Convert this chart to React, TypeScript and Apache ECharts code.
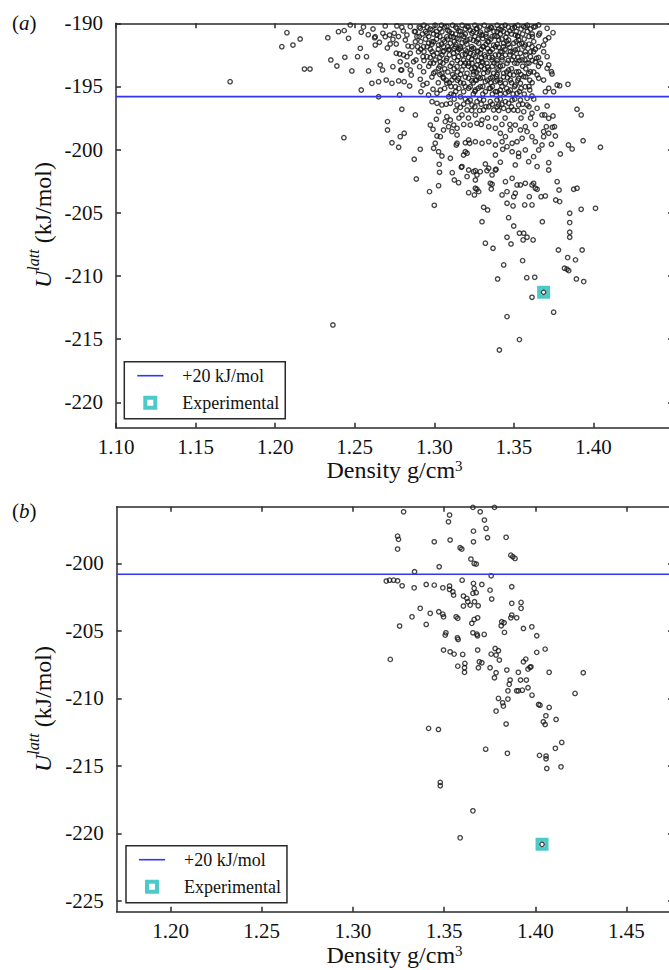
import React, { useEffect, useRef } from "react";
import * as echarts from "echarts";

const FONT = "Liberation Serif, Times New Roman, Times, serif";

// ---- axes ----
const A_X_TICKS = [1.1, 1.15, 1.2, 1.25, 1.3, 1.35, 1.4, 1.45];
const A_Y_TICKS = [-220, -215, -210, -205, -200, -195, -190];
const B_X_TICKS = [1.2, 1.25, 1.3, 1.35, 1.4, 1.45];
const B_Y_TICKS = [-225, -220, -215, -210, -205, -200];
const A_X_RANGE = [1.1, 1.45];
const A_Y_RANGE = [-222, -190];
const B_X_RANGE = [1.1705, 1.4755];
const B_Y_RANGE = [-225.8, -195.8];

// ---- reference lines / experimental structure ----
const A_ENERGY_WINDOW = -195.8;
const B_ENERGY_WINDOW = -200.8;
const A_EXPERIMENTAL: [number, number] = [1.3687, -211.28];
const B_EXPERIMENTAL: [number, number] = [1.4037, -220.81];

// ---- panel (a) structures: [density, U_latt] ----
const A_OUTLIERS: [number, number][] = [
  [1.1717, -194.62], [1.2042, -191.85], [1.2074, -190.74], [1.2112, -191.72], [1.2157, -191.24],
  [1.2184, -193.62], [1.2219, -193.62], [1.2331, -191.14], [1.235, -192.9], [1.2388, -193.38],
  [1.2398, -190.66], [1.2363, -213.87],
];
const A_SPREAD: [number, number][] = [
  [1.2434, -190.58], [1.2461, -191.19], [1.2472, -190.13], [1.2438, -192.69], [1.2482, -193.77],
  [1.2432, -199.05], [1.2541, -195.28], [1.2541, -190.71], [1.2518, -192.64], [1.2535, -191.98],
  [1.2574, -192.64], [1.2587, -193.77], [1.2608, -194.75], [1.2625, -191.14], [1.265, -194.62],
  [1.265, -195.81], [1.2698, -194.49], [1.2734, -194.75], [1.2776, -194.56], [1.2811, -194.62],
  [1.2845, -194.96], [1.2782, -195.67], [1.266, -193.3], [1.2675, -193.69], [1.274, -193.43],
  [1.279, -193.69], [1.2796, -196.8], [1.2881, -197.25], [1.2706, -197.78], [1.2706, -198.44],
  [1.2734, -199.45], [1.2776, -199.81], [1.2786, -198.97], [1.2811, -198.7], [1.2874, -200.76],
  [1.2887, -202.32], [1.2912, -199.97], [1.297, -203.32], [1.3, -204.4], [1.3027, -202.85],
  [1.3031, -201.16], [1.3033, -201.79], [1.2996, -199.89], [1.2975, -198.05], [1.2992, -198.39],
  [1.3017, -198.92], [1.3038, -198.97], [1.3013, -197.59], [1.3048, -200.5], [1.3101, -200.68],
  [1.3138, -199.63], [1.3113, -201.82], [1.3126, -202.4], [1.3153, -202.61], [1.317, -201.39],
  [1.3184, -200.42], [1.3206, -200.28], [1.3195, -199.45], [1.3222, -199.49], [1.3216, -203.4],
  [1.3252, -203.58], [1.3258, -201.66], [1.3268, -202.0], [1.3268, -203.13], [1.33, -205.7],
  [1.331, -204.56], [1.3335, -204.77], [1.3321, -201.13], [1.3331, -201.66], [1.3363, -202.0],
  [1.3363, -202.74], [1.3358, -203.11], [1.3388, -201.55], [1.3384, -200.42], [1.3415, -200.99],
  [1.343, -199.97], [1.3447, -202.53], [1.3457, -203.32], [1.3467, -205.38], [1.3457, -206.93],
  [1.3499, -206.04], [1.3495, -204.45], [1.3509, -203.45], [1.352, -202.79], [1.3509, -201.21],
  [1.353, -200.55], [1.3535, -206.61], [1.3562, -206.61], [1.3583, -206.93], [1.3568, -204.37],
  [1.3597, -203.72], [1.3614, -204.37], [1.3614, -202.79], [1.3624, -202.66], [1.3646, -203.13],
  [1.3646, -201.34], [1.3671, -203.72], [1.3698, -203.66], [1.3679, -205.7], [1.3719, -201.03],
  [1.3719, -201.61], [1.3772, -202.53], [1.3784, -203.19], [1.3792, -200.34], [1.3763, -203.98],
  [1.3788, -204.11], [1.3851, -205.03], [1.3876, -203.13], [1.3897, -203.05], [1.3923, -204.72],
  [1.4013, -204.64], [1.3851, -205.77], [1.3851, -206.53], [1.3851, -206.93], [1.3897, -196.8],
  [1.3923, -197.25], [1.3935, -199.29], [1.4044, -199.81], [1.3843, -199.63], [1.3866, -199.94],
  [1.384, -194.83], [1.3788, -194.94], [1.375, -195.41], [1.3719, -195.14], [1.3746, -190.74],
  [1.3719, -191.14], [1.3709, -190.4], [1.3746, -197.33], [1.3755, -198.18], [1.3742, -198.23],
  [1.3761, -198.92], [1.3736, -199.57], [1.3709, -196.54], [1.3694, -197.25], [1.3719, -197.52],
  [1.3704, -198.18], [1.3687, -198.57], [1.3736, -193.83], [1.3709, -193.56], [1.374, -194.01],
  [1.3687, -194.49], [1.3656, -194.35], [1.3667, -193.16], [1.3642, -192.77], [1.3687, -191.72],
  [1.3662, -190.79], [1.3656, -190.13], [1.3616, -191.06], [1.3624, -192.25], [1.3604, -193.83],
  [1.36, -195.28], [1.3614, -195.75],
  [1.2555, -190.3], [1.2585, -190.9], [1.2615, -190.45], [1.2655, -191.5], [1.2705, -191.95],
  [1.2775, -191.05], [1.2805, -190.6], [1.2835, -191.8], [1.2885, -192.9], [1.2855, -194.1],
  [1.2795, -193.7],
];
const A_CORE: [number, number][] = [
  [1.2629, -191.06], [1.2629, -191.72], [1.2677, -190.79], [1.2692, -191.06], [1.2719, -190.93],
  [1.274, -191.27], [1.2748, -190.79], [1.2723, -191.64], [1.2761, -191.64], [1.2692, -190.21],
  [1.2765, -190.21], [1.2796, -190.32], [1.2761, -192.37], [1.2782, -192.43], [1.2807, -192.51],
  [1.2828, -192.64], [1.2849, -192.37], [1.2786, -193.04], [1.2828, -193.3], [1.2849, -193.69],
  [1.287, -193.04], [1.286, -191.85], [1.2881, -191.46], [1.2901, -192.25], [1.2929, -192.64],
  [1.2908, -193.43], [1.2933, -193.83], [1.2912, -194.43], [1.2929, -194.88], [1.2916, -195.41],
  [1.2954, -194.75], [1.2964, -195.67], [1.2992, -195.22], [1.3017, -195.54], [1.3038, -195.28],
  [1.2986, -196.2], [1.3017, -196.33], [1.3048, -196.46], [1.3101, -196.33], [1.3143, -196.46],
  [1.309, -195.81], [1.3122, -195.67], [1.3164, -195.81], [1.3058, -194.35], [1.3079, -194.75],
  [1.3111, -194.49], [1.3132, -195.02], [1.3153, -194.35], [1.3184, -194.75], [1.2996, -193.96],
  [1.3027, -193.56], [1.3048, -193.96], [1.2975, -193.16], [1.3006, -192.9], [1.3038, -193.04],
  [1.2954, -192.64], [1.2986, -192.25], [1.3017, -192.37], [1.3048, -192.51], [1.3079, -192.77],
  [1.3111, -193.16], [1.3143, -193.43], [1.3174, -193.69], [1.3206, -193.96], [1.2933, -191.85],
  [1.2964, -191.58], [1.2996, -191.46], [1.3027, -191.72], [1.3058, -191.85], [1.309, -192.11],
  [1.3122, -192.37], [1.3153, -192.64], [1.3184, -192.9], [1.3216, -193.16], [1.2954, -190.79],
  [1.2986, -190.53], [1.3017, -190.93], [1.3048, -190.66], [1.3079, -191.06], [1.3111, -190.79],
  [1.3143, -191.19], [1.3174, -190.93], [1.3206, -191.32], [1.3101, -191.58], [1.3132, -191.85],
  [1.3164, -191.98], [1.3195, -192.11], [1.2849, -190.26], [1.2881, -190.66], [1.2912, -190.4],
  [1.2891, -191.06], [1.2828, -190.93], [1.2818, -191.32], [1.3079, -190.26], [1.3143, -190.4],
  [1.3206, -190.26], [1.3184, -195.41], [1.3216, -195.14], [1.321, -196.2], [1.3164, -196.65],
  [1.3237, -190.79], [1.3268, -190.4], [1.33, -190.93], [1.3331, -190.53], [1.3363, -191.06],
  [1.3394, -190.66], [1.3426, -190.26], [1.3457, -190.79], [1.3489, -190.4], [1.3509, -190.93],
  [1.3562, -190.26], [1.3635, -190.26], [1.353, -191.32], [1.3499, -191.58], [1.3467, -191.32],
  [1.3436, -191.58], [1.3405, -191.32], [1.3373, -191.72], [1.3342, -191.46], [1.331, -191.85],
  [1.3279, -191.58], [1.3247, -191.98], [1.3226, -192.37], [1.3258, -192.64], [1.3289, -192.37],
  [1.3321, -192.64], [1.3352, -192.25], [1.3384, -192.51], [1.3415, -192.25], [1.3447, -192.51],
  [1.3478, -192.25], [1.3509, -192.11], [1.3541, -192.37], [1.3572, -192.25], [1.3604, -192.64],
  [1.3572, -191.72], [1.3614, -191.85], [1.3656, -190.93], [1.3698, -191.32], [1.3635, -193.04],
  [1.3583, -193.16], [1.3552, -192.9], [1.352, -193.16], [1.3489, -192.9], [1.3457, -193.16],
  [1.3426, -192.9], [1.3394, -193.16], [1.3363, -192.9], [1.3331, -193.16], [1.33, -193.04],
  [1.3268, -193.3], [1.3237, -193.16], [1.3247, -193.83], [1.3279, -193.69], [1.331, -193.96],
  [1.3342, -193.69], [1.3373, -193.96], [1.3405, -193.69], [1.3436, -193.96], [1.3467, -193.69],
  [1.3499, -194.09], [1.353, -193.83], [1.3562, -194.22], [1.3593, -193.96], [1.3646, -194.09],
  [1.3216, -194.35], [1.3258, -194.49], [1.3289, -194.35], [1.3321, -194.62], [1.3352, -194.35],
  [1.3384, -194.62], [1.3415, -194.49], [1.3447, -194.75], [1.3478, -194.49], [1.3509, -194.88],
  [1.3541, -194.75], [1.3572, -195.02], [1.3226, -195.02], [1.3258, -195.28], [1.3289, -195.02],
  [1.3321, -195.41], [1.3352, -195.14], [1.3384, -195.41], [1.3415, -195.28], [1.3447, -195.54],
  [1.3478, -195.28], [1.352, -195.54], [1.3541, -196.07], [1.3583, -195.94], [1.3489, -196.07],
  [1.3447, -196.2], [1.3394, -196.07], [1.3352, -196.2], [1.331, -196.07], [1.3268, -196.2],
  [1.3226, -196.07], [1.3698, -195.41], [1.3719, -193.3], [1.3709, -192.64], [1.3687, -192.25],
  [1.3772, -194.88],
  [1.3085, -190.55], [1.3155, -190.6], [1.3225, -190.55], [1.329, -190.7], [1.336, -190.35],
  [1.342, -190.5], [1.3475, -190.6], [1.3305, -191.2], [1.3245, -191.35], [1.3175, -191.55],
  [1.312, -191.1], [1.3055, -191.3], [1.338, -191.0], [1.345, -191.1], [1.3525, -191.0],
  [1.3335, -192.0], [1.327, -192.2], [1.3195, -192.45], [1.3125, -192.0], [1.306, -192.2],
  [1.3405, -191.9], [1.3475, -191.9], [1.355, -191.6], [1.3365, -192.7], [1.3295, -192.75],
  [1.3235, -192.85], [1.3165, -193.15], [1.31, -193.4], [1.343, -193.35], [1.35, -192.65],
  [1.357, -192.9], [1.3335, -193.45], [1.3255, -193.5], [1.3185, -193.35], [1.339, -194.2],
  [1.3305, -194.3], [1.3235, -194.55], [1.3165, -194.05], [1.346, -194.3], [1.353, -194.35],
  [1.36, -194.5],
];
const A_CORE_DENSE: [number, number][] = [
  [1.2935, -190.15], [1.3005, -190.15], [1.3045, -190.15], [1.3115, -190.15], [1.3175, -190.15],
  [1.3255, -190.15], [1.3315, -190.15], [1.3395, -190.15], [1.3445, -190.15], [1.3525, -190.15],
  [1.3585, -190.15],
  [1.2975, -190.45], [1.3035, -190.45], [1.3195, -190.45], [1.3265, -190.45], [1.3345, -190.45],
  [1.3405, -190.45], [1.3545, -190.45], [1.3605, -190.45],
  [1.2925, -190.85], [1.2995, -190.85], [1.3135, -190.85], [1.3195, -190.85], [1.3285, -190.85],
  [1.3325, -190.85], [1.3415, -190.85], [1.3485, -190.85], [1.3555, -190.85], [1.3615, -190.85],
  [1.2945, -191.25], [1.3015, -191.25], [1.3085, -191.25], [1.3155, -191.25], [1.3225, -191.25],
  [1.3275, -191.25], [1.3355, -191.25], [1.3425, -191.25], [1.3565, -191.25],
  [1.2985, -191.65], [1.3045, -191.65], [1.3135, -191.65], [1.3205, -191.65], [1.3325, -191.65],
  [1.3395, -191.65], [1.3465, -191.65], [1.3535, -191.65], [1.3595, -191.65],
  [1.2915, -192.05], [1.2975, -192.05], [1.3025, -192.05], [1.3095, -192.05], [1.3155, -192.05],
  [1.3235, -192.05], [1.3295, -192.05], [1.3365, -192.05], [1.3445, -192.05], [1.3525, -192.05],
  [1.3635, -192.05],
  [1.2995, -192.5], [1.3095, -192.5], [1.3175, -192.5], [1.3245, -192.5], [1.3315, -192.5],
  [1.3405, -192.5], [1.3475, -192.5], [1.3575, -192.5],
  [1.2935, -192.95], [1.3075, -192.95], [1.3145, -192.95], [1.3275, -192.95], [1.3395, -192.95],
  [1.3465, -192.95], [1.3535, -192.95], [1.3615, -192.95],
  [1.2965, -193.4], [1.3035, -193.4], [1.3215, -193.4], [1.3295, -193.4], [1.3365, -193.4],
  [1.3415, -193.4], [1.3555, -193.4], [1.3655, -193.4],
  [1.3005, -193.85], [1.3085, -193.85], [1.3145, -193.85], [1.3265, -193.85], [1.3335, -193.85],
  [1.3455, -193.85], [1.3515, -193.85], [1.3625, -193.85],
  [1.2985, -194.25], [1.3055, -194.25], [1.3125, -194.25], [1.3195, -194.25], [1.3275, -194.25],
  [1.3365, -194.25], [1.3435, -194.25], [1.3575, -194.25],
  [1.3025, -194.7], [1.3095, -194.7], [1.3165, -194.7], [1.3245, -194.7], [1.3355, -194.7],
  [1.3415, -194.7], [1.3485, -194.7], [1.3615, -194.7],
  [1.3065, -195.15], [1.3155, -195.15], [1.3275, -195.15], [1.3345, -195.15], [1.3455, -195.15],
  [1.3545, -195.15],
  [1.3105, -195.6], [1.3245, -195.6], [1.3305, -195.6], [1.3365, -195.6], [1.3415, -195.6],
  [1.3495, -195.6], [1.3565, -195.6],
  [1.3075, -196.4], [1.3185, -196.4], [1.3295, -196.4], [1.3365, -196.4], [1.3425, -196.4],
  [1.3555, -196.4],
  [1.3135, -196.9], [1.3235, -196.9], [1.3285, -196.9], [1.3405, -196.9], [1.3465, -196.9],
  [1.3525, -196.9],
  [1.3155, -197.5], [1.3215, -197.5], [1.3335, -197.5], [1.3385, -197.5], [1.3445, -197.5],
  [1.3545, -197.5], [1.3605, -197.5],
  [1.3185, -198.0], [1.3295, -198.0], [1.3425, -198.0], [1.3475, -198.0], [1.3635, -198.0],
];
const A_CORE_DARKEST: [number, number][] = [
  [1.2905, -190.3], [1.2955, -190.3], [1.3065, -190.3], [1.3135, -190.3], [1.3215, -190.3],
  [1.3285, -190.3], [1.3355, -190.3], [1.3465, -190.3], [1.3505, -190.3], [1.3575, -190.3],
  [1.3625, -190.3],
  [1.2875, -190.65], [1.2945, -190.65], [1.3015, -190.65], [1.3095, -190.65], [1.3165, -190.65],
  [1.3245, -190.65], [1.3375, -190.65], [1.3435, -190.65], [1.3515, -190.65], [1.3585, -190.65],
  [1.2905, -191.05], [1.2965, -191.05], [1.3035, -191.05], [1.3105, -191.05], [1.3185, -191.05],
  [1.3255, -191.05], [1.3325, -191.05], [1.3395, -191.05], [1.3525, -191.05], [1.3595, -191.05],
  [1.2915, -191.45], [1.2985, -191.45], [1.3065, -191.45], [1.3125, -191.45], [1.3195, -191.45],
  [1.3265, -191.45], [1.3335, -191.45], [1.3455, -191.45], [1.3515, -191.45], [1.3625, -191.45],
  [1.2895, -191.85], [1.2955, -191.85], [1.3085, -191.85], [1.3165, -191.85], [1.3235, -191.85],
  [1.3305, -191.85], [1.3385, -191.85], [1.3435, -191.85], [1.3565, -191.85], [1.3655, -191.85],
  [1.2935, -192.25], [1.3055, -192.25], [1.3145, -192.25], [1.3205, -192.25], [1.3275, -192.25],
  [1.3345, -192.25], [1.3425, -192.25], [1.3495, -192.25], [1.3605, -192.25],
  [1.2975, -192.7], [1.3035, -192.7], [1.3125, -192.7], [1.3215, -192.7], [1.3345, -192.7],
  [1.3425, -192.7], [1.3525, -192.7], [1.3655, -192.7],
  [1.2995, -193.15], [1.3055, -193.15], [1.3195, -193.15], [1.3305, -193.15], [1.3375, -193.15],
  [1.3505, -193.15], [1.3595, -193.15],
  [1.3065, -193.6], [1.3125, -193.6], [1.3235, -193.6], [1.3315, -193.6], [1.3395, -193.6],
  [1.3485, -193.6], [1.3575, -193.6],
  [1.3035, -194.05], [1.3115, -194.05], [1.3245, -194.05], [1.3395, -194.05], [1.3475, -194.05],
  [1.3545, -194.05],
  [1.3075, -194.5], [1.3145, -194.5], [1.3265, -194.5], [1.3335, -194.5], [1.3395, -194.5],
  [1.3525, -194.5],
  [1.3105, -195.0], [1.3195, -195.0], [1.3305, -195.0], [1.3365, -195.0], [1.3425, -195.0],
  [1.3505, -195.0], [1.3595, -195.0],
  [1.3135, -195.4], [1.3255, -195.4], [1.3395, -195.4], [1.3465, -195.4], [1.3535, -195.4],
  [1.3125, -196.0], [1.3195, -196.0], [1.3285, -196.0], [1.3415, -196.0], [1.3505, -196.0],
  [1.3625, -196.0],
  [1.3255, -196.6], [1.3325, -196.6], [1.3395, -196.6], [1.3485, -196.6], [1.3595, -196.6],
];
const A_MIDDLE: [number, number][] = [
  [1.3174, -197.25], [1.3206, -196.86], [1.3237, -196.46], [1.3258, -197.25], [1.3226, -198.05],
  [1.3268, -197.91], [1.33, -197.65], [1.331, -196.86], [1.3342, -196.6], [1.3373, -196.86],
  [1.3405, -196.46], [1.3436, -196.73], [1.3467, -196.33], [1.3499, -196.86], [1.353, -196.46],
  [1.3562, -196.99], [1.3583, -196.46], [1.3614, -197.12], [1.3646, -196.73], [1.3677, -197.25],
  [1.3342, -198.18], [1.3384, -198.31], [1.3415, -198.7], [1.3426, -199.37], [1.3457, -199.76],
  [1.3447, -198.97], [1.3478, -198.44], [1.3509, -198.05], [1.3541, -198.44], [1.3572, -198.18],
  [1.3583, -198.57], [1.3614, -198.97], [1.3635, -199.37], [1.3552, -199.1], [1.352, -199.37],
  [1.3489, -199.49], [1.3489, -200.16], [1.353, -200.28], [1.3572, -200.02], [1.3593, -200.95],
  [1.3624, -200.55], [1.3656, -200.02], [1.3384, -199.63], [1.3342, -199.37], [1.33, -199.49],
  [1.3258, -199.37], [1.3216, -199.23], [1.3195, -200.16], [1.3143, -199.49], [1.3174, -201.34],
  [1.3216, -201.61], [1.3247, -201.74], [1.3289, -201.74], [1.3342, -201.47], [1.3384, -201.61],
  [1.3206, -202.13], [1.3258, -202.4], [1.3258, -203.05], [1.3279, -203.32], [1.3352, -202.66],
  [1.3489, -202.27], [1.3541, -202.79], [1.3572, -202.66], [1.3635, -203.05], [1.3426, -203.58],
  [1.3457, -204.24], [1.3499, -203.72], [1.3677, -199.63], [1.3687, -198.97], [1.3719, -198.7],
  [1.3006, -199.49], [1.3027, -200.16], [1.3027, -196.99], [1.3079, -197.39], [1.3069, -197.78],
  [1.3101, -197.65], [1.3122, -198.05], [1.309, -198.18], [1.3143, -198.31], [1.3111, -198.57],
  [1.3058, -198.44], [1.3143, -198.84],
];
const A_LOWER: [number, number][] = [
  [1.3321, -207.4], [1.3369, -207.8], [1.3482, -207.46], [1.3558, -207.14], [1.3621, -207.14],
  [1.3436, -209.12], [1.3555, -208.78], [1.3398, -210.23], [1.3581, -210.13], [1.3631, -210.1],
  [1.3614, -211.68], [1.3457, -213.21], [1.375, -212.86], [1.3535, -215.03], [1.3409, -215.85],
  [1.378, -207.94], [1.3838, -208.54], [1.3887, -208.72], [1.3929, -207.94], [1.3818, -209.38],
  [1.3834, -209.46], [1.3845, -209.57], [1.3893, -210.23], [1.3939, -210.44], [1.3687, -211.28],
];

// ---- panel (b) structures ----
const B_UPPER: [number, number][] = [
  [1.3278, -196.18], [1.353, -196.42], [1.3524, -196.92], [1.3658, -195.85], [1.3698, -196.18],
  [1.3776, -195.85], [1.3721, -196.79], [1.373, -197.41], [1.3661, -197.61], [1.3738, -198.1],
  [1.3661, -198.4], [1.3533, -198.27], [1.3446, -198.4], [1.3245, -197.98], [1.325, -198.22],
  [1.3245, -198.94], [1.3588, -198.84], [1.3597, -198.94], [1.384, -198.07], [1.3647, -199.68],
  [1.3665, -200.0], [1.3676, -200.05], [1.3866, -199.39], [1.3877, -199.51], [1.3889, -199.63],
  [1.3338, -200.62], [1.3473, -200.25], [1.3758, -200.92],
];
const B_MIDDLE: [number, number][] = [
  [1.3183, -201.31], [1.3201, -201.24], [1.3223, -201.24], [1.3245, -201.29], [1.327, -201.66],
  [1.3336, -201.81], [1.3402, -201.56], [1.3446, -201.61], [1.3493, -201.81], [1.353, -201.68],
  [1.353, -201.93], [1.3548, -202.1], [1.3552, -202.35], [1.3599, -201.24], [1.3661, -201.48],
  [1.3707, -201.56], [1.3665, -201.85], [1.3658, -202.22], [1.3676, -202.17], [1.3752, -201.98],
  [1.3761, -202.64], [1.3871, -201.73], [1.3606, -202.42], [1.3625, -202.59], [1.363, -202.84],
  [1.3606, -203.16], [1.3643, -203.09], [1.3667, -202.84], [1.3687, -203.14], [1.3922, -202.89],
  [1.3922, -203.33], [1.3871, -202.96], [1.3369, -203.33], [1.3324, -203.96], [1.3424, -203.7],
  [1.3402, -204.52], [1.3256, -204.64], [1.3471, -203.58], [1.3493, -203.76], [1.3497, -203.96],
  [1.3566, -203.96], [1.3575, -204.07], [1.3684, -204.03], [1.3665, -204.15], [1.3652, -204.44],
  [1.3871, -203.83], [1.3866, -204.03], [1.3898, -204.03], [1.3816, -204.32], [1.3813, -204.62],
  [1.3829, -204.4], [1.3831, -205.11], [1.3935, -204.82], [1.3981, -204.7], [1.4008, -205.36],
  [1.351, -205.14], [1.3506, -205.31], [1.3573, -205.51], [1.3577, -205.63], [1.3658, -205.14],
  [1.368, -205.24], [1.3683, -205.36], [1.372, -205.26],
];
const B_LOWER: [number, number][] = [
  [1.3497, -206.42], [1.3533, -206.55], [1.3555, -206.72], [1.3602, -206.74], [1.3684, -206.42],
  [1.3693, -207.29], [1.3707, -207.36], [1.3688, -207.73], [1.3575, -207.61], [1.3614, -207.41],
  [1.3612, -207.73], [1.3612, -208.07], [1.3752, -207.73], [1.3758, -206.72], [1.378, -206.3],
  [1.3798, -206.47], [1.3803, -207.16], [1.3785, -206.79], [1.3776, -208.47], [1.3785, -208.1],
  [1.3844, -207.9], [1.3862, -208.64], [1.3857, -208.96], [1.385, -209.44], [1.385, -210.05],
  [1.3798, -210.0], [1.3821, -210.33], [1.3825, -210.57], [1.3785, -210.94], [1.384, -211.9],
  [1.3898, -209.44], [1.3907, -209.44], [1.3929, -209.39], [1.3907, -208.07], [1.3935, -207.29],
  [1.3948, -207.09], [1.3919, -208.64], [1.3951, -208.64], [1.396, -207.83], [1.3971, -207.7],
  [1.3976, -207.66], [1.396, -209.21], [1.3982, -209.76], [1.4008, -206.59], [1.4054, -206.35],
  [1.4076, -208.07], [1.4018, -210.45], [1.4026, -210.5], [1.4076, -210.67], [1.4058, -211.29],
  [1.4044, -211.73], [1.4054, -211.93], [1.4114, -211.56], [1.4263, -208.1], [1.4218, -209.63],
  [1.3205, -207.11], [1.3415, -212.22], [1.3469, -212.3], [1.3728, -213.76], [1.3847, -214.07],
  [1.4023, -214.22], [1.4059, -214.27], [1.4059, -214.47], [1.411, -213.7], [1.4145, -213.26],
  [1.4063, -215.19], [1.4141, -215.07], [1.3479, -216.22], [1.3479, -216.47], [1.3658, -218.33],
  [1.3588, -220.33], [1.4037, -220.81],
];

const A_STRUCTURES = [
  ...A_OUTLIERS, ...A_SPREAD, ...A_CORE, ...A_CORE_DENSE, ...A_CORE_DARKEST, ...A_MIDDLE, ...A_LOWER,
];
const B_STRUCTURES = [...B_UPPER, ...B_MIDDLE, ...B_LOWER];

const LINE_NAME = "+20 kJ/mol";
const EXP_NAME = "Experimental";
const BLUE = "#3434f4";
const CYAN = "#1fbdbd";
const FRAME = "#2a2a2a";

const serifToken = { fontFamily: FONT, fontSize: 21, color: "#111" };

function axisPair(
  gridIndex: number,
  range: number[],
  ticks: number[],
  labelTicks: number[],
  isX: boolean,
  fmt: (v: number) => string
) {
  const common = {
    type: "value",
    gridIndex,
    min: range[0],
    max: range[1],
    splitLine: { show: false },
    axisLine: { show: true, onZero: false, lineStyle: { color: FRAME, width: 1.5 } },
    axisTick: {
      show: true,
      inside: true,
      length: 5,
      customValues: ticks,
      lineStyle: { color: FRAME, width: 1.5 },
    },
  };
  const main = {
    ...common,
    position: isX ? "bottom" : "left",
    axisLabel: {
      show: true,
      customValues: labelTicks,
      formatter: (v: number) => "{t|" + fmt(v) + "}",
      fontFamily: FONT,
      fontSize: 21,
      color: "#111",
      margin: isX ? 9 : 13,
      rich: { t: serifToken },
    },
  };
  const opp = {
    ...common,
    position: isX ? "top" : "right",
    axisLabel: { show: false },
  };
  return [main, opp];
}

function legendFor(left: number, top: number) {
  return {
    orient: "vertical",
    left,
    top,
    padding: [4, 6, 6, 13],
    itemGap: 7,
    itemWidth: 26,
    itemHeight: 10,
    backgroundColor: "#fff",
    borderColor: FRAME,
    borderWidth: 1.5,
    borderRadius: 0,
    selectedMode: false,
    symbolKeepAspect: true,
    formatter: (name: string) => "{t|" + name + "}",
    textStyle: {
      fontFamily: FONT,
      fontSize: 18,
      lineHeight: 20,
      color: "#111",
      padding: [0, 0, 0, 14],
      rich: { t: { fontFamily: FONT, fontSize: 18, lineHeight: 20, color: "#111" } },
    },
    data: [
      {
        name: LINE_NAME,
        icon: "path://M0 0H26V1.6H0Z",
        itemStyle: { color: BLUE, borderWidth: 0 },
      },
      {
        name: EXP_NAME,
        icon: "path://M0 0H10V10H0Z",
        itemStyle: { color: "#fff", borderColor: CYAN, borderWidth: 4 },
      },
    ],
  };
}

export default function App() {
  const ref = useRef<HTMLDivElement>(null);

  useEffect(() => {
    if (!ref.current) return;
    const chart = echarts.init(ref.current, null, { renderer: "svg" });

    const xa = axisPair(0, A_X_RANGE, A_X_TICKS, A_X_TICKS.slice(0, -1), true, (v) => v.toFixed(2));
    const ya = axisPair(0, A_Y_RANGE, A_Y_TICKS, A_Y_TICKS, false, (v) => String(Math.round(v)));
    const xb = axisPair(1, B_X_RANGE, B_X_TICKS, B_X_TICKS, true, (v) => v.toFixed(2));
    const yb = axisPair(1, B_Y_RANGE, B_Y_TICKS, B_Y_TICKS, false, (v) => String(Math.round(v)));

    const ringStyle = {
      color: "rgba(255,255,255,0)",
      borderColor: "#151515",
      borderWidth: 1.35,
    };

    const option = {
      animation: false,
      backgroundColor: "#fff",
      textStyle: { fontFamily: FONT },
      grid: [
        { left: 116, top: 23.3, width: 557, height: 404.4, show: false },
        { left: 116.7, top: 506.7, width: 556.3, height: 405, show: false },
      ],
      xAxis: [xa[0], xa[1], xb[0], xb[1]],
      yAxis: [ya[0], ya[1], yb[0], yb[1]],
      legend: [legendFor(124.3, 361.7), legendFor(126, 845.7)],
      series: [
        {
          name: EXP_NAME,
          type: "scatter",
          xAxisIndex: 0,
          yAxisIndex: 0,
          data: [A_EXPERIMENTAL],
          symbol: "rect",
          symbolSize: 9,
          itemStyle: { color: "#fff", borderColor: CYAN, borderWidth: 4 },
        },
        {
          name: "Panel (a) structures",
          type: "scatter",
          xAxisIndex: 0,
          yAxisIndex: 0,
          data: A_STRUCTURES,
          symbol: "circle",
          symbolSize: 4.4,
          itemStyle: ringStyle,
        },
        {
          name: LINE_NAME,
          type: "line",
          xAxisIndex: 0,
          yAxisIndex: 0,
          data: [
            [A_X_RANGE[0], A_ENERGY_WINDOW],
            [A_X_RANGE[1], A_ENERGY_WINDOW],
          ],
          symbol: "none",
          lineStyle: { color: BLUE, width: 1.6 },
          itemStyle: { color: BLUE },
        },
        {
          name: EXP_NAME,
          type: "scatter",
          xAxisIndex: 2,
          yAxisIndex: 2,
          data: [B_EXPERIMENTAL],
          symbol: "rect",
          symbolSize: 9,
          itemStyle: { color: "#fff", borderColor: CYAN, borderWidth: 4 },
        },
        {
          name: "Panel (b) structures",
          type: "scatter",
          xAxisIndex: 2,
          yAxisIndex: 2,
          data: B_STRUCTURES,
          symbol: "circle",
          symbolSize: 4.4,
          itemStyle: ringStyle,
        },
        {
          name: LINE_NAME,
          type: "line",
          xAxisIndex: 2,
          yAxisIndex: 2,
          data: [
            [B_X_RANGE[0], B_ENERGY_WINDOW],
            [B_X_RANGE[1], B_ENERGY_WINDOW],
          ],
          symbol: "none",
          lineStyle: { color: BLUE, width: 1.6 },
          itemStyle: { color: BLUE },
        },
      ],
      graphic: [
        {
          type: "text",
          left: 12,
          top: 12,
          style: {
            text: "({i|a})",
            fontFamily: FONT,
            fontSize: 21,
            fill: "#111",
            rich: { i: { fontStyle: "italic", fontFamily: FONT, fontSize: 21 } },
          },
        },
        {
          type: "text",
          left: 12,
          top: 500,
          style: {
            text: "({i|b})",
            fontFamily: FONT,
            fontSize: 21,
            fill: "#111",
            rich: { i: { fontStyle: "italic", fontFamily: FONT, fontSize: 21 } },
          },
        },
        ...[225, 709].map((cy) => ({
          type: "text",
          x: 40,
          y: cy,
          rotation: Math.PI / 2,
          style: {
            text: "{u|U}{s|latt} {n|(kJ/mol)}",
            fontFamily: FONT,
            fontSize: 24,
            fill: "#111",
            align: "center",
            verticalAlign: "middle",
            rich: {
              u: { fontStyle: "italic", fontFamily: FONT, fontSize: 24, lineHeight: 30, verticalAlign: "bottom" },
              s: { fontStyle: "italic", fontFamily: FONT, fontSize: 16, lineHeight: 18, verticalAlign: "top" },
              n: { fontFamily: FONT, fontSize: 24, lineHeight: 30, verticalAlign: "bottom" },
            },
          },
        })),
        ...[470, 955].map((cy) => ({
          type: "text",
          x: 394.5,
          y: cy,
          style: {
            text: "{n|Density g/cm}{s|3}",
            fontFamily: FONT,
            fontSize: 24,
            fill: "#111",
            align: "center",
            verticalAlign: "middle",
            rich: {
              n: { fontFamily: FONT, fontSize: 24, lineHeight: 24, verticalAlign: "bottom" },
              s: { fontFamily: FONT, fontSize: 15, lineHeight: 20, verticalAlign: "top" },
            },
          },
        })),
      ],
    };

    chart.setOption(option as any);
    return () => chart.dispose();
  }, []);

  return (
    <div
      style={{
        position: "absolute",
        left: 0,
        top: 0,
        width: 669,
        height: 970,
        overflow: "hidden",
        background: "#fff",
      }}
    >
      <div ref={ref} style={{ width: 680, height: 970 }} />
    </div>
  );
}
